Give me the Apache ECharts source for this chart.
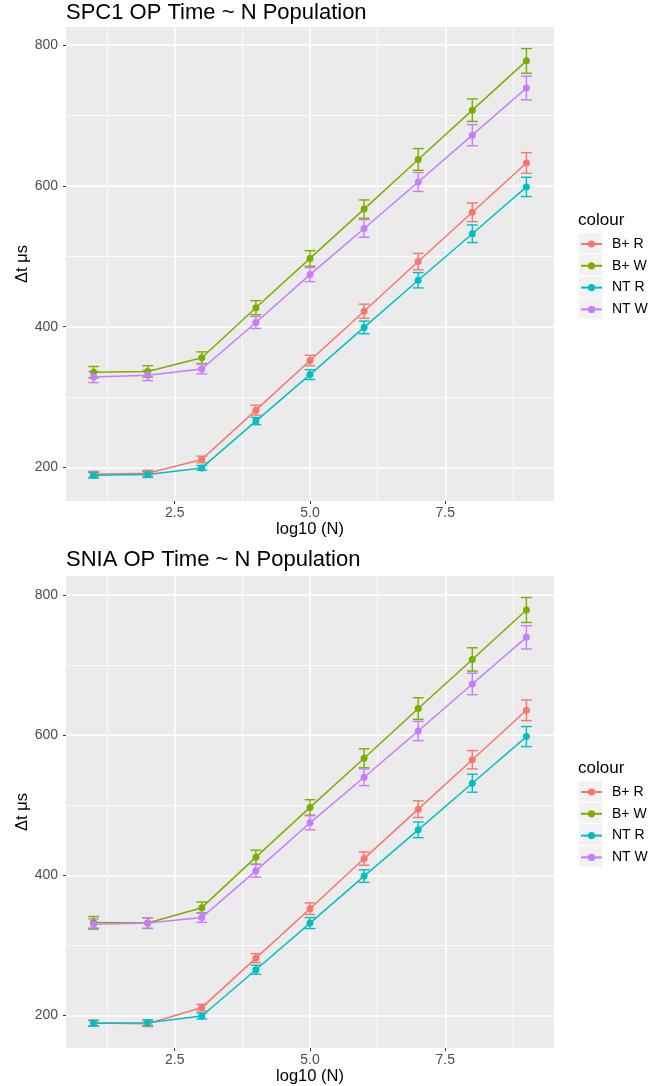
<!DOCTYPE html>
<html>
<head>
<meta charset="utf-8">
<script src="https://cdn.jsdelivr.net/npm/echarts@6.0.0/dist/echarts.min.js"></script>
<style>
  html, body { margin: 0; padding: 0; background: #fff; }
  #main { width: 662px; height: 1086px; }
</style>
</head>
<body>
<div id="main"></div>
<script>
// x = log10(N)
const xs = [1, 2, 3, 4, 5, 6, 7, 8, 9];
const names = ['B+ R', 'B+ W', 'NT R', 'NT W'];
const colors = ['#F8766D', '#7CAE00', '#00BFC4', '#C77CFF'];

// SPC1 panel: means and error half widths (us)
const spc1BR = [190.5, 192, 211.5, 281.5, 352, 422, 492.5, 562.5, 632.5];
const spc1BW = [335.5, 336.5, 356, 427, 497, 567, 637.5, 707.5, 777.5];
const spc1NR = [189, 190, 199.5, 266, 332, 399, 466, 532, 598.5];
const spc1NW = [328.5, 331, 340, 406, 474, 539.5, 605.5, 672, 739];
const spc1BRerr = [4, 4, 4.7, 7, 7.5, 10, 11.6, 13.3, 14.7];
const spc1BWerr = [8, 8, 8.3, 10, 11, 13, 15.4, 16, 17.5];
const spc1NRerr = [4, 4, 3.5, 5.2, 7, 9, 10.9, 12.5, 13.7];
const spc1NWerr = [7.8, 7.5, 7, 8.5, 10, 12.5, 13.5, 15, 16.8];

// SNIA panel
const sniaBR = [189.5, 188.5, 211.5, 282, 352.5, 424, 494.5, 565, 635.5];
const sniaBW = [333, 332, 354, 426, 497, 567, 638, 708, 778.5];
const sniaNR = [189, 190, 199.5, 265.5, 332, 399, 465, 531.5, 598];
const sniaNW = [330.5, 332, 340, 406.5, 475, 540, 606, 673, 739.5];
const sniaBRerr = [4, 4, 4.7, 6.4, 8.3, 9.5, 11.9, 13, 14.7];
const sniaBWerr = [8.3, 7.6, 8, 10, 11, 13.5, 15.4, 16.6, 17.8];
const sniaNRerr = [4, 4, 4.3, 6.4, 7.8, 9, 11.2, 12.8, 14.3];
const sniaNWerr = [7.5, 7.5, 7, 9, 10, 11.9, 13.8, 15.4, 16.6];

// axis ticks
const xTicks = [2.5, 5, 7.5];
const xMinor = [1.25, 3.75, 6.25, 8.75];
const yTicks = [200, 400, 600, 800];
const yMinor = [300, 500, 700];

const FONT = 'Liberation Sans, Arial, Helvetica, sans-serif';

function renderErr(params, api) {
  const x = api.value(0);
  const lo = api.coord([x, api.value(1)]);
  const hi = api.coord([x, api.value(2)]);
  const half = api.coord([x + 0.1, api.value(1)])[0] - lo[0];
  const style = { stroke: api.visual('color'), lineWidth: 1.4 };
  return {
    type: 'group',
    children: [
      { type: 'line', shape: { x1: lo[0], y1: hi[1], x2: lo[0], y2: lo[1] }, style: style },
      { type: 'line', shape: { x1: lo[0] - half, y1: hi[1], x2: lo[0] + half, y2: hi[1] }, style: style },
      { type: 'line', shape: { x1: lo[0] - half, y1: lo[1], x2: lo[0] + half, y2: lo[1] }, style: style }
    ]
  };
}

// grid lines drawn as white mark lines (ggplot style)
function gridSeries(idx) {
  const major = { color: '#fff', width: 1.5, type: 'solid' };
  const minor = { color: '#fff', width: 0.8, type: 'solid' };
  const data = [];
  xMinor.forEach(v => data.push({ xAxis: v, lineStyle: minor }));
  yMinor.forEach(v => data.push({ yAxis: v, lineStyle: minor }));
  xTicks.forEach(v => data.push({ xAxis: v, lineStyle: major }));
  yTicks.forEach(v => data.push({ yAxis: v, lineStyle: major }));
  return {
    name: '_grid', type: 'line', xAxisIndex: idx, yAxisIndex: idx, z: 1,
    data: [], silent: true,
    markLine: { z: 1, silent: true, symbol: ['none', 'none'], label: { show: false }, animation: false, data: data }
  };
}

function panelSeries(idx, means, errs) {
  const out = [];
  // lines first so the legend takes its icon from them
  means.forEach((m, k) => {
    out.push({
      name: names[k], type: 'line', xAxisIndex: idx, yAxisIndex: idx, z: 3,
      symbol: 'circle', symbolSize: 7, showSymbol: true,
      itemStyle: { color: colors[k] },
      lineStyle: { color: colors[k], width: 1.5 },
      data: xs.map((x, i) => [x, m[i]])
    });
  });
  means.forEach((m, k) => {
    out.push({
      name: names[k], type: 'custom', xAxisIndex: idx, yAxisIndex: idx, z: 2,
      itemStyle: { color: colors[k] },
      renderItem: renderErr,
      data: xs.map((x, i) => [x, m[i] - errs[k][i], m[i] + errs[k][i]])
    });
  });
  return out;
}

function xAxisOf(idx) {
  return {
    gridIndex: idx, type: 'value', min: 0.49, max: 9.51,
    axisLine: { show: false },
    splitLine: { show: false },
    axisTick: { show: true, customValues: xTicks, length: 3, lineStyle: { color: '#333' } },
    axisLabel: { customValues: xTicks, color: '#4D4D4D', fontSize: 14, margin: 5, fontFamily: FONT,
      formatter: v => v.toFixed(1) },
    name: 'log10 (N)', nameLocation: 'middle', nameGap: 19,
    nameTextStyle: { color: '#000', fontSize: 16.5, fontFamily: FONT }
  };
}

function yAxisOf(idx, min, max) {
  return {
    gridIndex: idx, type: 'value', min: min, max: max,
    axisLine: { show: false },
    splitLine: { show: false },
    axisTick: { show: true, customValues: yTicks, length: 3, lineStyle: { color: '#333' } },
    axisLabel: { customValues: yTicks, color: '#4D4D4D', fontSize: 14, margin: 8, fontFamily: FONT },
    name: 'Δt μs', nameLocation: 'middle', nameGap: 35, nameMoveOverlap: false,
    nameTextStyle: { color: '#000', fontSize: 16.5, fontFamily: FONT }
  };
}

function legendOf(top) {
  return {
    orient: 'vertical', left: 580, top: top, padding: 0,
    itemWidth: 21, itemHeight: 9, itemGap: 5.8,
    data: names,
    textStyle: { color: '#000', fontSize: 14, fontFamily: FONT, lineHeight: 16, padding: [0, 0, 0, 5] }
  };
}

function keyBoxes(top) {
  return [0, 1, 2, 3].map(i => ({
    type: 'rect', left: 579, top: top + i * 21.7, z: 3, silent: true,
    shape: { width: 23, height: 20.5 },
    style: { fill: '#F2F2F2' }
  }));
}

const chart = echarts.init(document.getElementById('main'));
chart.setOption({
  animation: false,
  textStyle: { fontFamily: FONT },
  title: [
    { text: 'SPC1 OP Time ~ N Population', left: 66, top: 2, padding: 0,
      textStyle: { fontSize: 22, fontWeight: 'normal', color: '#000', fontFamily: FONT } },
    { text: 'SNIA OP Time ~ N Population', left: 66, top: 549, padding: 0,
      textStyle: { fontSize: 22, fontWeight: 'normal', color: '#000', fontFamily: FONT } },
    { text: 'colour', left: 578, top: 212, padding: 0,
      textStyle: { fontSize: 17, fontWeight: 'normal', color: '#000', fontFamily: FONT } },
    { text: 'colour', left: 578, top: 760, padding: 0,
      textStyle: { fontSize: 17, fontWeight: 'normal', color: '#000', fontFamily: FONT } }
  ],
  grid: [
    { left: 66, top: 27, width: 488, height: 474, show: true, backgroundColor: '#EBEBEB', borderWidth: 0 },
    { left: 66, top: 576, width: 488, height: 473, show: true, backgroundColor: '#EBEBEB', borderWidth: 0 }
  ],
  xAxis: [xAxisOf(0), xAxisOf(1)],
  yAxis: [yAxisOf(0, 152.5, 825.6), yAxisOf(1, 153.7, 827)],
  legend: [legendOf(236), legendOf(784)],
  graphic: keyBoxes(233).concat(keyBoxes(781)),
  series: [gridSeries(0), gridSeries(1)]
    .concat(panelSeries(0, [spc1BR, spc1BW, spc1NR, spc1NW], [spc1BRerr, spc1BWerr, spc1NRerr, spc1NWerr]))
    .concat(panelSeries(1, [sniaBR, sniaBW, sniaNR, sniaNW], [sniaBRerr, sniaBWerr, sniaNRerr, sniaNWerr]))
});
</script>
</body>
</html>
